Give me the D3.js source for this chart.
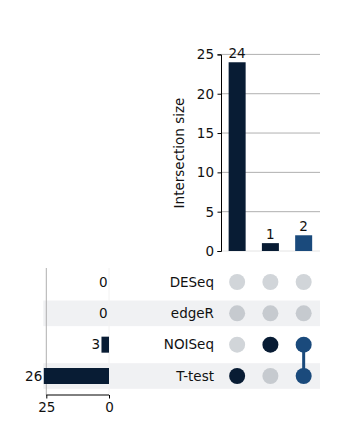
<!DOCTYPE html>
<html><head><meta charset="utf-8">
<script src="https://cdn.jsdelivr.net/npm/d3@7"></script>
<style>
html,body{margin:0;padding:0;background:#fff;}
text{font-family:"DejaVu Sans",sans-serif;fill:#111;}
</style></head>
<body>
<svg id="chart" width="355" height="444"></svg>
<script>
const sets = ["DESeq", "edgeR", "NOISeq", "T-test"];
const setTotals = [0, 0, 3, 26];
const intersectionSizes = [24, 1, 2];
const intersectionMembers = [["T-test"], ["NOISeq"], ["NOISeq", "T-test"]];
const intersectionColors = ["#081c34", "#081c34", "#1a4a7c"];
const topTicks = [0, 5, 10, 15, 20, 25];
const leftTicks = [0, 25];

const svg = d3.select("#chart");
const FS = 13.5;

// scales
const xCol = d3.scalePoint().domain(d3.range(intersectionSizes.length)).range([220.5, 320.3]).padding(0.5);
const yTop = d3.scaleLinear().domain([0, 25]).range([251, 54.4]);
const yRow = d3.scalePoint().domain(sets).range([282, 376]);
const xLeft = d3.scaleLinear().domain([0, 25]).range([109, 46.3]);
const bandH = 25.6;
const barW = 17;

// shading bands
svg.append("g").selectAll("rect").data(sets.filter((s, i) => i % 2 === 1)).join("rect")
  .attr("x", 43.3).attr("width", 320 - 43.3)
  .attr("y", d => yRow(d) - bandH / 2).attr("height", bandH)
  .attr("fill", "#f0f1f3");

// top gridlines
svg.append("g").selectAll("line").data(topTicks).join("line")
  .attr("x1", 221).attr("x2", 320)
  .attr("y1", d => yTop(d)).attr("y2", d => yTop(d))
  .attr("stroke", d => d === 0 ? "#e4e4e4" : "#b0b0b0").attr("stroke-width", 1);

// top bars
svg.append("g").selectAll("rect").data(intersectionSizes).join("rect")
  .attr("x", (d, i) => xCol(i) - barW / 2).attr("width", barW)
  .attr("y", d => yTop(d)).attr("height", d => yTop(0) - yTop(d))
  .attr("fill", (d, i) => intersectionColors[i]);

// top bar labels
svg.append("g").selectAll("text").data(intersectionSizes).join("text")
  .attr("x", (d, i) => xCol(i)).attr("y", d => yTop(d) - 4)
  .attr("text-anchor", "middle").attr("font-size", FS)
  .text(d => d);

// top y axis
const yAxis = d3.axisLeft(yTop).tickValues(topTicks).tickSize(3.5).tickPadding(3.5);
const gy = svg.append("g").attr("transform", "translate(221,0)").call(yAxis);
gy.select(".domain").attr("stroke", "#000").attr("stroke-width", 1);
gy.selectAll(".tick line").attr("stroke", "#000");
gy.selectAll(".tick text").attr("font-size", FS).attr("font-family", "DejaVu Sans").attr("fill", "#111");

svg.append("text").attr("transform", "translate(184,153) rotate(-90)")
  .attr("text-anchor", "middle").attr("font-size", FS).text("Intersection size");

// left chart gridlines
svg.append("g").selectAll("line").data(leftTicks).join("line")
  .attr("x1", d => xLeft(d)).attr("x2", d => xLeft(d))
  .attr("y1", 268).attr("y2", 395)
  .attr("stroke", d => d === 0 ? "#f2f2f2" : "#b0b0b0").attr("stroke-width", 1);

// left bars
const leftBarH = 16;
svg.append("g").selectAll("rect").data(sets).join("rect")
  .attr("x", (d, i) => xLeft(setTotals[i])).attr("width", (d, i) => xLeft(0) - xLeft(setTotals[i]))
  .attr("y", d => yRow(d) - leftBarH / 2).attr("height", leftBarH)
  .attr("fill", "#081c34");

svg.append("g").selectAll("text").data(sets).join("text")
  .attr("x", (d, i) => xLeft(setTotals[i]) - 1.5).attr("y", d => yRow(d))
  .attr("dy", "0.35em").attr("text-anchor", "end").attr("font-size", FS)
  .text((d, i) => setTotals[i]);

// left x axis
const xAxis = d3.axisBottom(xLeft).tickValues(leftTicks).tickSize(3.5).tickPadding(3.5);
const gx = svg.append("g").attr("transform", "translate(0,395)").call(xAxis);
gx.select(".domain").attr("stroke", "#000").attr("d", `M${xLeft(25)},0H${xLeft(0)}`);
gx.selectAll(".tick line").attr("stroke", "#000");
gx.selectAll(".tick text").attr("font-size", FS).attr("font-family", "DejaVu Sans").attr("fill", "#111");

// row labels
svg.append("g").selectAll("text").data(sets).join("text")
  .attr("x", 214).attr("y", d => yRow(d)).attr("dy", "0.35em")
  .attr("text-anchor", "end").attr("font-size", FS).text(d => d);

// matrix dots
const dots = [];
intersectionMembers.forEach((m, i) => {
  sets.forEach((s, j) => {
    dots.push({ col: i, set: s, row: j, on: m.includes(s) });
  });
});
// connectors
svg.append("g").selectAll("line").data(intersectionMembers.map((m, i) => i).filter(i => intersectionMembers[i].length > 1)).join("line")
  .attr("x1", i => xCol(i)).attr("x2", i => xCol(i))
  .attr("y1", i => d3.min(intersectionMembers[i], s => yRow(s)))
  .attr("y2", i => d3.max(intersectionMembers[i], s => yRow(s)))
  .attr("stroke", i => intersectionColors[i]).attr("stroke-width", 3);

svg.append("g").selectAll("circle").data(dots).join("circle")
  .attr("cx", d => xCol(d.col)).attr("cy", d => yRow(d.set)).attr("r", 8)
  .attr("fill", d => d.on ? intersectionColors[d.col] : (d.row % 2 === 1 ? "#c6cacf" : "#d1d5d9"));
</script>
</body></html>
